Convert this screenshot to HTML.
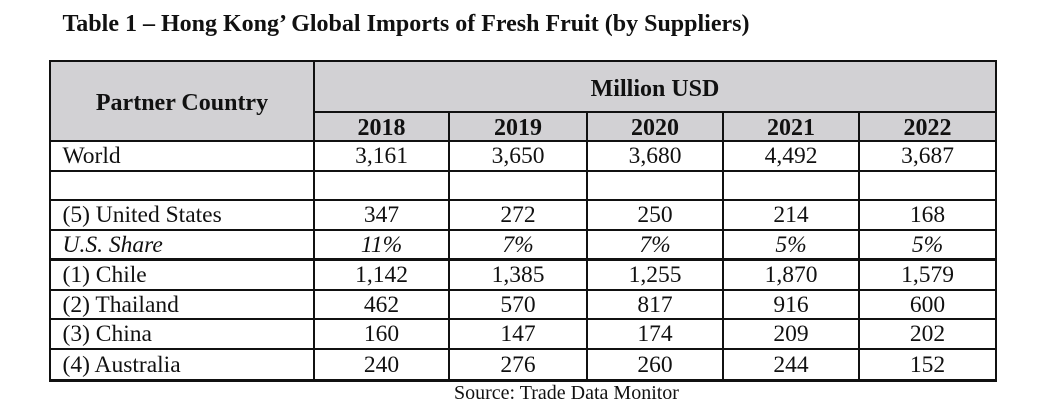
<!DOCTYPE html>
<html>
<head>
<meta charset="utf-8">
<style>
  html,body{margin:0;padding:0;background:#fff;}
  body{width:1055px;height:416px;position:relative;overflow:hidden;font-family:"Liberation Serif","Times New Roman",serif;color:#111;}
  .h{position:absolute;background:#111;}
  .t{position:absolute;line-height:1;white-space:nowrap;}
  .b{font-weight:bold;}
  .c{text-align:center;}
  .n{font-size:23.5px;}
  .i{font-style:italic;}
</style>
</head>
<body>
<!-- title -->
<div class="t b" style="left:62.5px;top:11.6px;font-size:24px;">Table 1 – Hong Kong’ Global Imports of Fresh Fruit (by Suppliers)</div>

<!-- header fill -->
<div style="position:absolute;left:49px;top:60px;width:948px;height:82px;background:#d2d1d4;"></div>

<!-- horizontal lines -->
<div class="h" style="left:49px;top:60px;width:948px;height:2px;"></div>
<div class="h" style="left:313px;top:111px;width:684px;height:2px;"></div>
<div class="h" style="left:49px;top:140px;width:948px;height:2px;"></div>
<div class="h" style="left:49px;top:170px;width:948px;height:2px;"></div>
<div class="h" style="left:49px;top:199px;width:948px;height:2px;"></div>
<div class="h" style="left:49px;top:229px;width:948px;height:2px;"></div>
<div class="h" style="left:49px;top:258px;width:948px;height:3px;"></div>
<div class="h" style="left:49px;top:289px;width:948px;height:2px;"></div>
<div class="h" style="left:49px;top:318px;width:948px;height:2px;"></div>
<div class="h" style="left:49px;top:348px;width:948px;height:2px;"></div>
<div class="h" style="left:49px;top:379px;width:948px;height:3px;"></div>

<!-- vertical lines -->
<div class="h" style="left:49px;top:60px;width:2px;height:322px;"></div>
<div class="h" style="left:313px;top:60px;width:2px;height:322px;"></div>
<div class="h" style="left:448px;top:111px;width:2px;height:271px;"></div>
<div class="h" style="left:586px;top:111px;width:2px;height:271px;"></div>
<div class="h" style="left:722px;top:111px;width:2px;height:271px;"></div>
<div class="h" style="left:858px;top:111px;width:2px;height:271px;"></div>
<div class="h" style="left:995px;top:60px;width:2px;height:322px;"></div>

<!-- header text -->
<div class="t b c" style="left:50px;width:264px;top:91.4px;font-size:24px;">Partner Country</div>
<div class="t b c" style="left:314px;width:682px;top:76.6px;font-size:24px;">Million USD</div>
<div class="t b c" style="left:314px;width:135px;top:116.4px;font-size:24px;">2018</div>
<div class="t b c" style="left:449px;width:138px;top:116.4px;font-size:24px;">2019</div>
<div class="t b c" style="left:587px;width:136px;top:116.4px;font-size:24px;">2020</div>
<div class="t b c" style="left:723px;width:136px;top:116.4px;font-size:24px;">2021</div>
<div class="t b c" style="left:859px;width:137px;top:116.4px;font-size:24px;">2022</div>

<!-- rows -->
<!-- World -->
<div class="t n" style="left:62.5px;top:145px;">World</div>
<div class="t n c" style="left:314px;width:135px;top:145px;">3,161</div>
<div class="t n c" style="left:449px;width:138px;top:145px;">3,650</div>
<div class="t n c" style="left:587px;width:136px;top:145px;">3,680</div>
<div class="t n c" style="left:723px;width:136px;top:145px;">4,492</div>
<div class="t n c" style="left:859px;width:137px;top:145px;">3,687</div>

<!-- United States -->
<div class="t n" style="left:62.5px;top:204px;">(5) United States</div>
<div class="t n c" style="left:314px;width:135px;top:204px;">347</div>
<div class="t n c" style="left:449px;width:138px;top:204px;">272</div>
<div class="t n c" style="left:587px;width:136px;top:204px;">250</div>
<div class="t n c" style="left:723px;width:136px;top:204px;">214</div>
<div class="t n c" style="left:859px;width:137px;top:204px;">168</div>

<!-- U.S. Share -->
<div class="t n i" style="left:62.5px;top:233.5px;">U.S. Share</div>
<div class="t n c i" style="left:314px;width:135px;top:233.5px;">11%</div>
<div class="t n c i" style="left:449px;width:138px;top:233.5px;">7%</div>
<div class="t n c i" style="left:587px;width:136px;top:233.5px;">7%</div>
<div class="t n c i" style="left:723px;width:136px;top:233.5px;">5%</div>
<div class="t n c i" style="left:859px;width:137px;top:233.5px;">5%</div>

<!-- Chile -->
<div class="t n" style="left:62.5px;top:264px;">(1) Chile</div>
<div class="t n c" style="left:314px;width:135px;top:264px;">1,142</div>
<div class="t n c" style="left:449px;width:138px;top:264px;">1,385</div>
<div class="t n c" style="left:587px;width:136px;top:264px;">1,255</div>
<div class="t n c" style="left:723px;width:136px;top:264px;">1,870</div>
<div class="t n c" style="left:859px;width:137px;top:264px;">1,579</div>

<!-- Thailand -->
<div class="t n" style="left:62.5px;top:293.5px;">(2) Thailand</div>
<div class="t n c" style="left:314px;width:135px;top:293.5px;">462</div>
<div class="t n c" style="left:449px;width:138px;top:293.5px;">570</div>
<div class="t n c" style="left:587px;width:136px;top:293.5px;">817</div>
<div class="t n c" style="left:723px;width:136px;top:293.5px;">916</div>
<div class="t n c" style="left:859px;width:137px;top:293.5px;">600</div>

<!-- China -->
<div class="t n" style="left:62.5px;top:323px;">(3) China</div>
<div class="t n c" style="left:314px;width:135px;top:323px;">160</div>
<div class="t n c" style="left:449px;width:138px;top:323px;">147</div>
<div class="t n c" style="left:587px;width:136px;top:323px;">174</div>
<div class="t n c" style="left:723px;width:136px;top:323px;">209</div>
<div class="t n c" style="left:859px;width:137px;top:323px;">202</div>

<!-- Australia -->
<div class="t n" style="left:62.5px;top:353.5px;">(4) Australia</div>
<div class="t n c" style="left:314px;width:135px;top:353.5px;">240</div>
<div class="t n c" style="left:449px;width:138px;top:353.5px;">276</div>
<div class="t n c" style="left:587px;width:136px;top:353.5px;">260</div>
<div class="t n c" style="left:723px;width:136px;top:353.5px;">244</div>
<div class="t n c" style="left:859px;width:137px;top:353.5px;">152</div>

<!-- source -->
<div class="t" style="left:454px;top:382.5px;font-size:20px;">Source: Trade Data Monitor</div>
</body>
</html>
